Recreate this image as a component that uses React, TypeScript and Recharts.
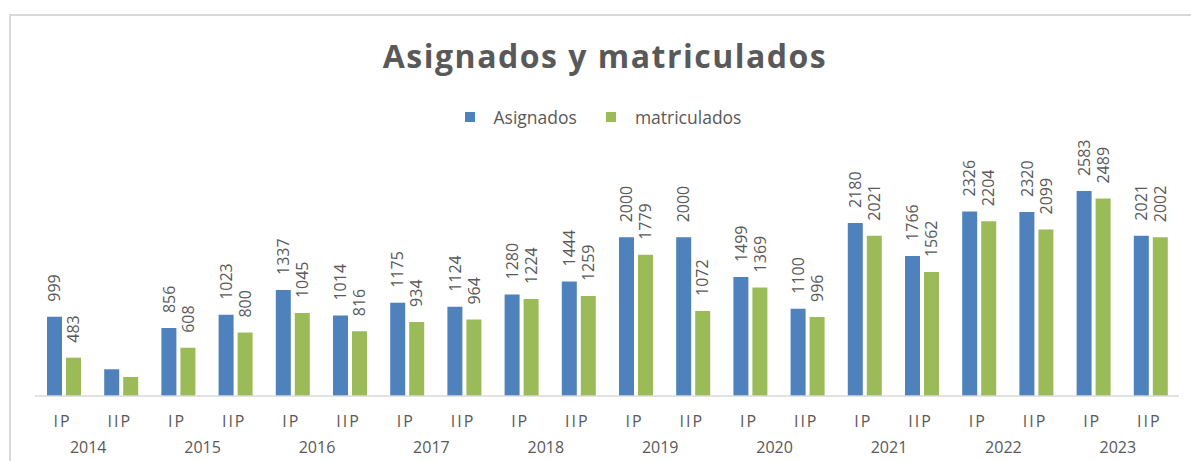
import { BarChart, Bar, XAxis, YAxis, Legend, LabelList } from "recharts";

const periods = ["IP", "IIP", "IP", "IIP", "IP", "IIP", "IP", "IIP", "IP", "IIP", "IP", "IIP", "IP", "IIP", "IP", "IIP", "IP", "IIP", "IP", "IIP"];
const years = ["2014", "2015", "2016", "2017", "2018", "2019", "2020", "2021", "2022", "2023"];
const asignados = [999, 337, 856, 1023, 1337, 1014, 1175, 1124, 1280, 1444, 2000, 2000, 1499, 1100, 2180, 1766, 2326, 2320, 2583, 2021];
const matriculados = [483, 240, 608, 800, 1045, 816, 934, 964, 1224, 1259, 1779, 1072, 1369, 996, 2021, 1562, 2204, 2099, 2489, 2002];
// 2014 II P has no data labels in the original
const showLabel = periods.map((_, i) => i !== 1);

const data = periods.map((p, i) => ({
  periodo: p,
  asignados: asignados[i],
  matriculados: matriculados[i],
}));

const FONT = "'Open Sans', 'Liberation Sans', sans-serif";
const GRAY = "#595959";
const BLUE = "#4F81BD";
const GREEN = "#9BBB59";
const BAND = 57.2;

function PeriodTick(props: any) {
  const { x, y, payload, index } = props;
  const yr = index % 2 === 0 ? years[index / 2] : null;
  return (
    <g>
      <text x={x - 1} y={y + 31} textAnchor="middle" fontSize={16} letterSpacing={2} fill={GRAY} fontFamily={FONT}>
        {payload.value}
      </text>
      {yr && (
        <text x={x + BAND / 2 - 4} y={y + 57} textAnchor="middle" fontSize={16} fill={GRAY} fontFamily={FONT}>
          {yr}
        </text>
      )}
    </g>
  );
}

function ValueLabel(props: any) {
  const { x, y, width, value, index } = props;
  if (!showLabel[index]) return null;
  const cx = Number(x) + Number(width) / 2;
  const ty = Number(y) - 15;
  return (
    <text
      x={cx}
      y={ty}
      dy="0.36em"
      transform={`rotate(-90 ${cx} ${ty})`}
      textAnchor="start"
      fontSize={16}
      fill={GRAY}
      fontFamily={FONT}
    >
      {value}
    </text>
  );
}

function LegendContent() {
  const item = (color: string, label: string, ml: number) => (
    <div style={{ display: "flex", alignItems: "center", marginLeft: ml }}>
      <div style={{ width: 10, height: 10, background: color, marginRight: 19 }} />
      <span style={{ fontSize: 17.5, color: GRAY, fontFamily: FONT }}>{label}</span>
    </div>
  );
  return (
    <div style={{ display: "flex", justifyContent: "center", alignItems: "center", height: 24, paddingLeft: 4 }}>
      {item(BLUE, "Asignados", 0)}
      {item(GREEN, "matriculados", 29)}
    </div>
  );
}

export default function App() {
  return (
    <div
      style={{
        position: "fixed",
        left: 9,
        top: 14,
        width: 1182,
        height: 447,
        boxSizing: "border-box",
        borderTop: "2px solid #d9d9d9",
        borderLeft: "2px solid #d9d9d9",
        background: "#fff",
        overflow: "hidden",
      }}
    >
      <BarChart
        width={1180}
        height={445}
        data={data}
        margin={{ top: 118, right: 12, left: 24, bottom: 0 }}
        barGap={4}
        barSize={15}
      >
        <text
          x={594}
          y={52}
          textAnchor="middle"
          fontSize={32}
          fontWeight={700}
          letterSpacing={1.5}
          fill={GRAY}
          fontFamily={FONT}
        >
          Asignados y matriculados
        </text>
        <Legend
          verticalAlign="top"
          content={<LegendContent />}
          wrapperStyle={{ top: 89, left: 0, width: 1180, height: 24 }}
        />
        <XAxis
          dataKey="periodo"
          interval={0}
          height={65}
          tickLine={false}
          tickSize={0}
          tickMargin={0}
          axisLine={{ stroke: "#d9d9d9", strokeWidth: 1.5 }}
          tick={<PeriodTick />}
        />
        <YAxis hide domain={[0, 3000]} />
        <Bar dataKey="asignados" name="Asignados" fill={BLUE} isAnimationActive={false}>
          <LabelList dataKey="asignados" content={<ValueLabel />} />
        </Bar>
        <Bar dataKey="matriculados" name="matriculados" fill={GREEN} isAnimationActive={false}>
          <LabelList dataKey="matriculados" content={<ValueLabel />} />
        </Bar>
      </BarChart>
    </div>
  );
}
